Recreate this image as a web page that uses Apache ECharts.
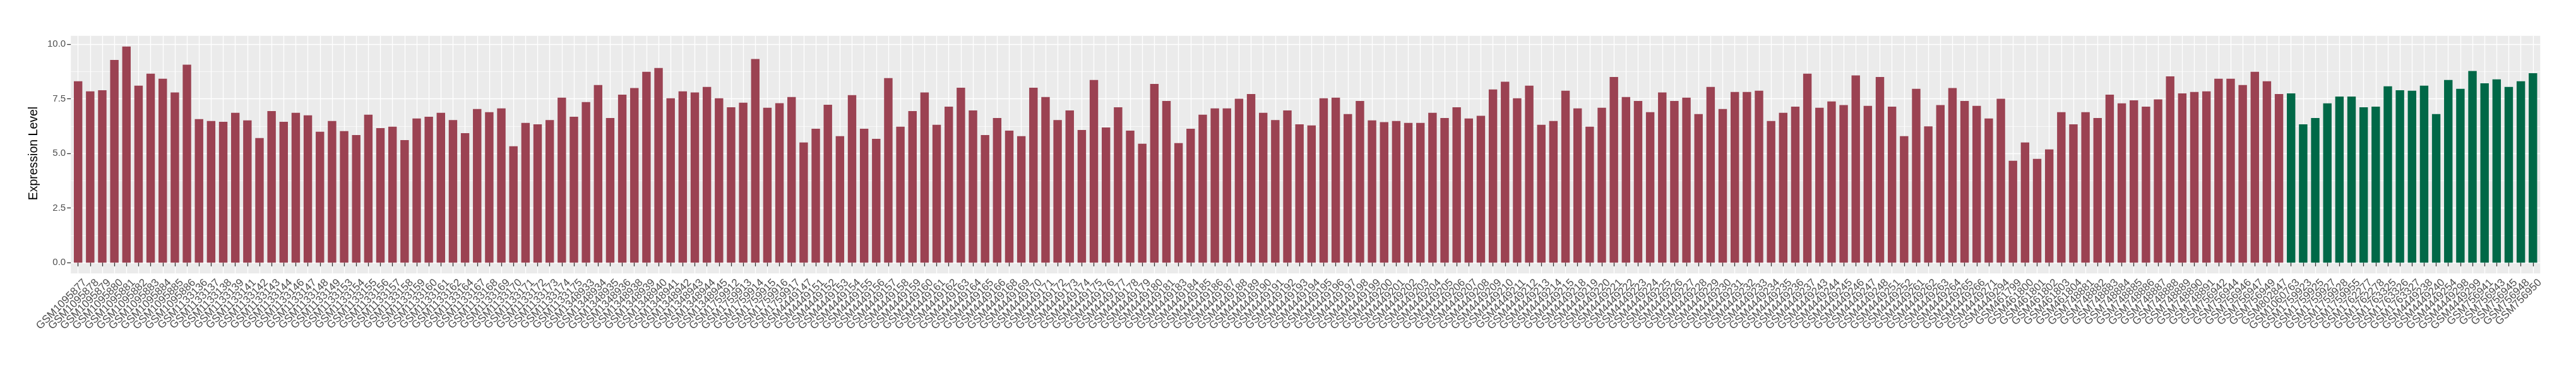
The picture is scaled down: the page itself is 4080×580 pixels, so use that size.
<!DOCTYPE html>
<html><head><meta charset="utf-8">
<script src="https://cdn.jsdelivr.net/npm/echarts@6/dist/echarts.min.js"></script>
<style>html,body{margin:0;padding:0;background:#fff}#c{width:4080px;height:580px}</style>
</head><body><div id="c"></div>
<script>
// ---- data ----
const group1Samples = ['GSM1095877','GSM1095878','GSM1095879','GSM1095880','GSM1095881','GSM1095882','GSM1095883','GSM1095884','GSM1095885','GSM1095886',
'GSM1133136','GSM1133137','GSM1133138','GSM1133139','GSM1133141','GSM1133142','GSM1133143','GSM1133144','GSM1133146','GSM1133147','GSM1133148','GSM1133149','GSM1133153','GSM1133154','GSM1133155','GSM1133156','GSM1133157','GSM1133158','GSM1133159','GSM1133160','GSM1133161','GSM1133162','GSM1133164','GSM1133167','GSM1133168','GSM1133169','GSM1133170','GSM1133171','GSM1133172','GSM1133173','GSM1133174','GSM1133175',
'GSM1348933','GSM1348934','GSM1348935','GSM1348936','GSM1348938','GSM1348939','GSM1348940','GSM1348941','GSM1348942','GSM1348943','GSM1348944','GSM1348945',
'GSM1759912','GSM1759913','GSM1759914','GSM1759915','GSM1759916','GSM1759917',
'GSM4449147','GSM4449151','GSM4449152','GSM4449153','GSM4449154','GSM4449155','GSM4449156','GSM4449157','GSM4449158','GSM4449159','GSM4449160','GSM4449161','GSM4449162','GSM4449163','GSM4449164','GSM4449165','GSM4449166','GSM4449168','GSM4449169','GSM4449170','GSM4449171','GSM4449172','GSM4449173','GSM4449174','GSM4449175','GSM4449176','GSM4449177','GSM4449178','GSM4449179','GSM4449180','GSM4449181','GSM4449183','GSM4449184','GSM4449185','GSM4449186','GSM4449187','GSM4449188','GSM4449189','GSM4449190','GSM4449191','GSM4449192','GSM4449193','GSM4449194','GSM4449195','GSM4449196','GSM4449197','GSM4449198','GSM4449199','GSM4449200','GSM4449201','GSM4449202','GSM4449203','GSM4449204','GSM4449205','GSM4449206','GSM4449207','GSM4449208','GSM4449209','GSM4449210','GSM4449211','GSM4449212','GSM4449213','GSM4449214','GSM4449215','GSM4449218','GSM4449219','GSM4449220','GSM4449221','GSM4449222','GSM4449223','GSM4449224','GSM4449225','GSM4449226','GSM4449227','GSM4449228','GSM4449229','GSM4449230','GSM4449231','GSM4449232','GSM4449233','GSM4449234','GSM4449235','GSM4449236','GSM4449237','GSM4449243','GSM4449244','GSM4449245','GSM4449246','GSM4449247','GSM4449248','GSM4449251','GSM4449252','GSM4449261','GSM4449262','GSM4449263','GSM4449264','GSM4449265','GSM4449266','GSM4449271','GSM4449294',
'GSM461799','GSM461800','GSM461801','GSM461802','GSM461803','GSM461804',
'GSM748881','GSM748882','GSM748883','GSM748884','GSM748885','GSM748886','GSM748887','GSM748888','GSM748889','GSM748890','GSM748891',
'GSM756942','GSM756944','GSM756946','GSM756947','GSM756949','GSM802847'];
const group1Values = [8.30,7.84,7.89,9.28,9.89,8.10,8.65,8.42,7.79,9.06,
6.57,6.48,6.45,6.86,6.51,5.70,6.94,6.45,6.86,6.74,5.99,6.48,6.02,5.84,6.77,6.16,6.22,5.61,6.60,6.68,6.86,6.53,5.93,7.03,6.89,7.06,5.33,6.40,6.33,6.53,7.55,6.68,
7.35,8.13,6.62,7.69,7.99,8.74,8.91,7.52,7.84,7.79,8.04,7.52,
7.11,7.32,9.32,7.09,7.30,7.58,
5.50,6.13,7.23,5.79,7.67,6.13,5.67,8.45,6.22,6.94,7.79,6.31,7.14,8.01,6.97,5.84,6.62,6.04,5.79,8.01,7.58,6.53,6.97,6.07,8.36,6.19,7.11,6.04,5.44,8.18,7.40,5.47,6.13,6.77,7.06,7.06,7.50,7.72,6.86,6.53,6.97,6.33,6.28,7.52,7.55,6.80,7.40,6.51,6.43,6.48,6.40,6.40,6.86,6.62,7.11,6.60,6.72,7.93,8.28,7.52,8.10,6.31,6.48,7.87,7.06,6.22,7.09,8.50,7.58,7.40,6.89,7.79,7.40,7.55,6.80,8.04,7.03,7.81,7.81,7.87,6.48,6.86,7.14,8.65,7.09,7.38,7.21,8.57,7.18,8.50,7.14,5.79,7.96,6.24,7.21,7.99,7.40,7.18,6.60,7.50,
4.66,5.50,4.75,5.18,6.89,6.33,
6.89,6.62,7.69,7.29,7.43,7.14,7.47,8.53,7.75,7.81,7.84,
8.42,8.42,8.13,8.74,8.30,7.72];
const group2Samples = ['GSM1060763','GSM1759923','GSM1759925','GSM1759927','GSM1759928','GSM1759955','GSM1762277','GSM1762278','GSM1763325','GSM1763326','GSM1763327','GSM4449238','GSM4449240','GSM4449254','GSM4449298','GSM4449299','GSM756941','GSM756943','GSM756945','GSM756948','GSM756950'];
const group2Values = [7.75,6.33,6.62,7.29,7.60,7.60,7.11,7.14,8.07,7.89,7.87,8.10,6.80,8.36,7.96,8.77,8.21,8.39,8.04,8.30,8.67];
const yTicks = [0, 2.5, 5, 7.5, 10];
const yTickLabels = ['0.0','2.5','5.0','7.5','10.0'];
const group1Color = '#9B4252';
const group2Color = '#006847';

// ---- layout ----
const W = 4080, H = 580;
const panelL = 112.2, panelR = 4023.3, panelT = 56.7, panelB = 433.3;
const categories = group1Samples.concat(group2Samples);
const values = group1Values.concat(group2Values);
const N = categories.length;
const step = (panelR - panelL) / (N - 1 + 1.2);
const maxV = Math.max.apply(null, values);
const yLo = -0.05 * maxV, yHi = 1.05 * maxV;
const ppu = (panelB - panelT) / (yHi - yLo);
const gridBTop = panelT + (yHi - yTicks[yTicks.length - 1]) * ppu;
const gridBBottomPx = panelB - (yTicks[0] - yLo) * ppu;

const barData = values.map((v, i) => ({
  value: v,
  itemStyle: { color: i < group1Values.length ? group1Color : group2Color }
}));

const FONT = 'Liberation Sans, Arial, sans-serif';
const chart = echarts.init(document.getElementById('c'), null, { renderer: 'canvas' });
chart.setOption({
  animation: false,
  backgroundColor: '#ffffff',
  grid: [
    { left: panelL, right: W - panelR, top: panelT, bottom: H - panelB, show: true, backgroundColor: '#EBEBEB', borderWidth: 0, containLabel: false },
    { left: panelL, right: W - panelR, top: gridBTop, bottom: H - gridBBottomPx, containLabel: false },
    { left: panelL + 0.6 * step, right: W - (panelR - 0.6 * step), top: panelT, bottom: H - panelB, containLabel: false }
  ],
  xAxis: [
    { gridIndex: 0, type: 'value', show: false, min: 0, max: 1 },
    { gridIndex: 1, type: 'value', show: false, min: 0, max: 1 },
    { gridIndex: 2, type: 'category', data: categories, boundaryGap: false,
      axisLine: { show: false },
      axisTick: { show: true, interval: 0, length: 6, lineStyle: { color: '#333333', width: 1.3 } },
      splitLine: { show: true, interval: 0, lineStyle: { color: '#ffffff', width: 1.3 } },
      axisLabel: { interval: 0, rotate: 45, align: 'right', verticalAlign: 'top', margin: 1,
        padding: [7, 0, 0, 0],
        fontFamily: FONT, fontSize: 17, color: '#4D4D4D' } }
  ],
  yAxis: [
    { gridIndex: 0, type: 'value', show: false, min: 0, max: 1 },
    { gridIndex: 1, type: 'value', min: yTicks[0], max: yTicks[yTicks.length - 1], interval: 2.5,
      axisLine: { show: false },
      axisTick: { show: true, length: 6, lineStyle: { color: '#333333', width: 1.3 } },
      axisLabel: { margin: 8, fontFamily: FONT, fontSize: 15, color: '#4D4D4D',
        formatter: v => { const k = yTicks.indexOf(v); return k >= 0 ? yTickLabels[k] : ''; } },
      splitLine: { show: true, lineStyle: { color: '#ffffff', width: 1.3 } },
      minorTick: { show: false, splitNumber: 2 },
      minorSplitLine: { show: true, lineStyle: { color: '#ffffff', width: 0.65 } },
      name: 'Expression Level', nameLocation: 'middle', nameGap: 38, nameRotate: 90,
      nameTextStyle: { fontFamily: FONT, fontSize: 19.5, color: '#000000' } },
    { gridIndex: 2, type: 'value', show: false, min: yLo, max: yHi }
  ],
  series: [
    { type: 'bar', xAxisIndex: 2, yAxisIndex: 2, data: barData, barWidth: '70%', z: 3 }
  ]
});
</script>
</body></html>
